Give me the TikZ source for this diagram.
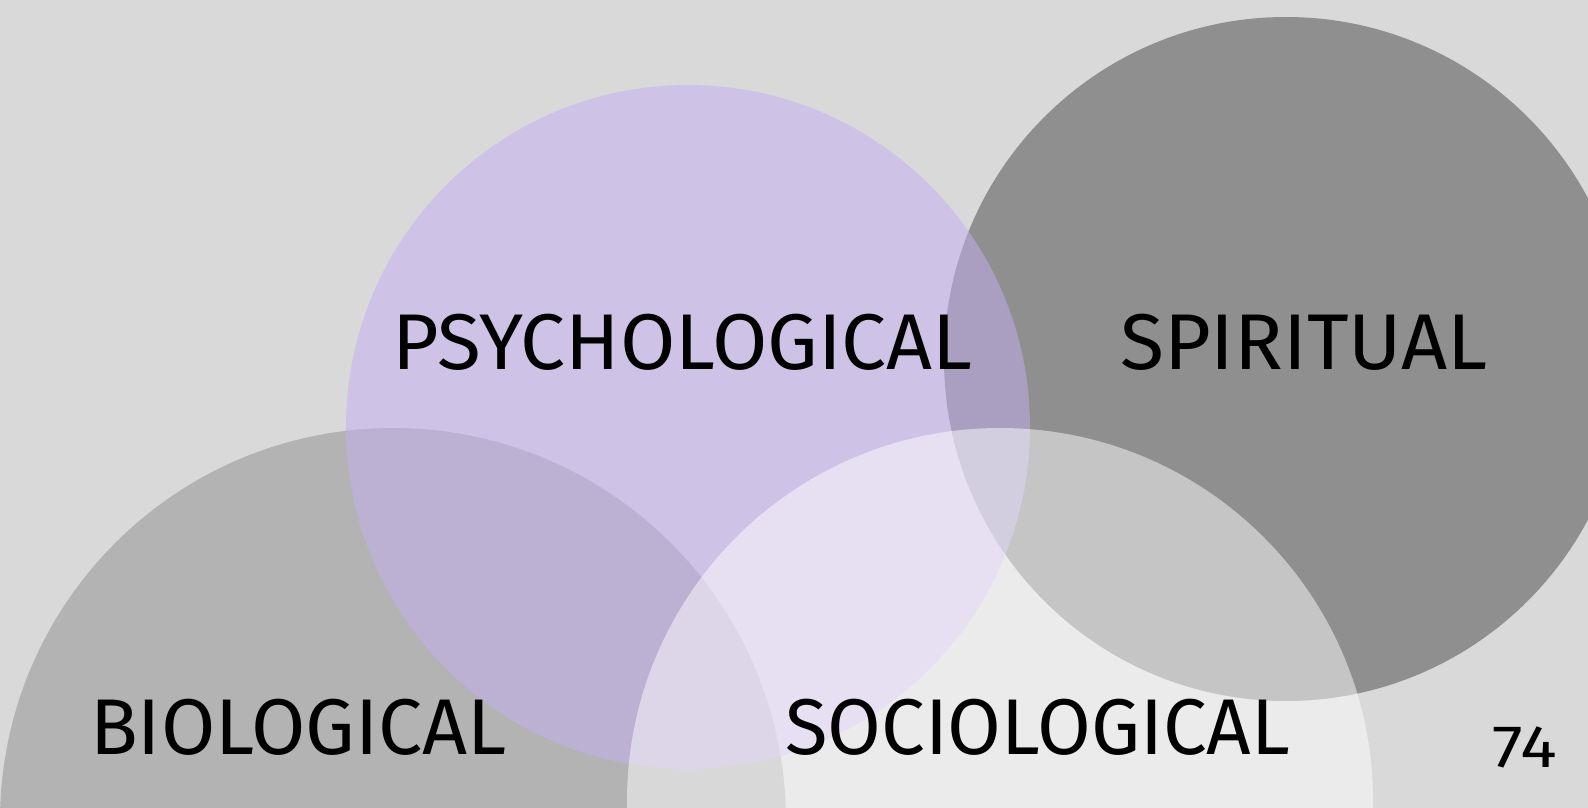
\documentclass[tikz,border=0pt]{standalone}
\usepackage{fontspec}
\setmainfont{Fira Sans}
\definecolor{bgc}{RGB}{217,217,217}
\definecolor{bioc}{RGB}{179,179,179}
\definecolor{spic}{RGB}{143,143,143}
\definecolor{psyc}{RGB}{197,175,243}
\tikzset{
  lbl/.style={anchor=base west, inner sep=0pt, font=\fontsize{79}{88}\selectfont},
  pg/.style={anchor=base west, inner sep=0pt, font=\fontsize{60}{66}\selectfont}
}
\begin{document}
\begin{tikzpicture}[x=1pt,y=-1pt]
\useasboundingbox (0,0) rectangle (1588,808);
\clip (0,0) rectangle (1588,808);
\fill[bgc] (0,0) rectangle (1588,808);
\fill[bioc] (393,821) circle[radius=393pt];
\fill[spic] (1286,359) circle[radius=342pt];
\fill[psyc, fill opacity=0.5] (688,427) circle[radius=342pt];
\fill[white, fill opacity=0.49] (1000,801) circle[radius=373pt];
\node[lbl, xscale=1.015] (psy) at (392,369.5) {PSYCHOLOGICAL};
\node[lbl, xscale=1.02] (spi) at (1120,369.5) {SPIRITUAL};
\node[lbl, xscale=0.995] (bio) at (90,754.5) {BIOLOGICAL};
\node[lbl, xscale=0.985] (soc) at (785,754.5) {SOCIOLOGICAL};
\node[pg, xscale=1.15] (num) at (1492,767) {74};
\end{tikzpicture}
\end{document}
